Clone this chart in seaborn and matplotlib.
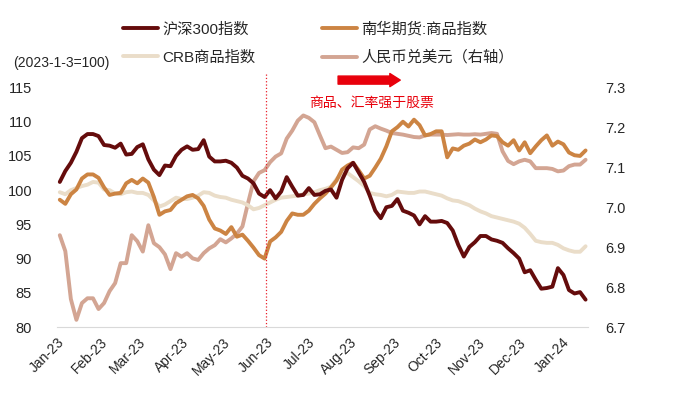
import pandas as pd
import matplotlib.pyplot as plt
import matplotlib.dates as mdates
import seaborn as sns

# values, one point every 4 days from 2023-01-03
hs300 = [101.2, 102.8, 104.0, 105.6, 107.6, 108.2, 108.2, 107.9, 106.6, 106.5, 106.2, 106.8,
         105.2, 105.3, 106.3, 106.7, 104.5, 103.0, 102.2, 103.6, 103.5, 105.0, 105.9, 106.4,
         105.9, 106.0, 107.3, 104.9, 104.2, 104.2, 104.3, 104.0, 103.3, 102.1, 101.7, 101.0,
         99.5, 99.0, 100.0, 98.8, 99.8, 101.9, 100.5, 99.2, 99.3, 100.3, 99.3, 99.4,
         99.9, 100.1, 98.9, 101.5, 103.2, 104.0, 102.6, 101.2, 99.2, 97.0, 95.9, 97.5,
         97.7, 98.7, 97.0, 96.7, 96.3, 95.0, 96.2, 95.4, 95.4, 95.5, 95.2, 94.1,
         92.0, 90.3, 91.7, 92.4, 93.3, 93.3, 92.8, 92.6, 92.3, 91.5, 90.8, 90.0,
         88.0, 88.3, 86.9, 85.6, 85.7, 85.9, 88.6, 87.6, 85.4, 84.9, 85.1, 84.0]

nanhua = [98.6, 98.0, 99.4, 100.1, 101.7, 102.3, 102.3, 101.8, 100.4, 99.3, 99.5, 99.6,
          101.0, 101.5, 101.0, 101.7, 101.1, 99.0, 96.4, 96.9, 97.1, 98.1, 98.6, 99.1,
          99.3, 98.8, 97.7, 95.7, 94.4, 94.1, 93.6, 94.6, 93.2, 93.5, 92.6, 91.6,
          90.5, 90.0, 92.5, 93.1, 93.9, 95.5, 96.6, 96.4, 96.4, 97.0, 98.0, 98.8,
          99.5, 100.4, 101.4, 103.0, 103.6, 104.0, 102.9, 101.7, 102.1, 103.3, 104.6, 106.4,
          108.6, 109.2, 110.0, 109.3, 110.3, 109.5, 108.0, 108.2, 108.6, 108.6, 104.8, 106.1,
          105.9, 106.5, 106.8, 107.4, 107.0, 107.4, 108.0, 107.9, 107.0, 106.5, 107.3, 105.8,
          107.0, 105.4, 106.4, 107.3, 108.0, 106.5, 107.1, 106.7, 105.5, 105.1, 105.0, 105.8]

crb = [99.7, 99.4, 100.0, 100.3, 100.6, 100.8, 101.2, 101.1, 100.1, 100.0, 99.5, 99.4,
       99.7, 99.8, 99.6, 99.6, 99.3, 98.5, 97.6, 97.9, 98.4, 98.9, 98.7, 98.7,
       98.9, 99.2, 99.7, 99.6, 99.2, 99.0, 98.9, 98.6, 98.4, 98.2, 97.8, 97.2,
       97.4, 97.8, 98.2, 98.6, 98.9, 99.0, 99.1, 99.2, 99.4, 99.5, 99.7, 100.0,
       100.2, 100.5, 101.6, 102.4, 102.5, 101.9, 101.3, 100.6, 99.6, 99.4, 99.3, 99.1,
       99.3, 99.8, 99.7, 99.6, 99.6, 99.8, 99.8, 99.6, 99.4, 99.2, 98.8, 98.5,
       98.4, 98.1, 97.8, 97.3, 96.9, 96.6, 96.2, 96.0, 95.8, 95.6, 95.4, 95.1,
       94.5, 93.6, 92.6, 92.4, 92.3, 92.3, 92.0, 91.5, 91.2, 91.0, 91.0, 91.8]

usdcny = [6.930, 6.890, 6.770, 6.718, 6.760, 6.772, 6.772, 6.745, 6.760, 6.790, 6.810, 6.860,
          6.860, 6.930, 6.915, 6.889, 6.955, 6.910, 6.900, 6.882, 6.845, 6.885, 6.876, 6.885,
          6.872, 6.868, 6.885, 6.897, 6.905, 6.920, 6.912, 6.922, 6.934, 6.952, 7.010, 7.065,
          7.086, 7.093, 7.113, 7.127, 7.135, 7.172, 7.192, 7.217, 7.230, 7.224, 7.213, 7.180,
          7.148, 7.152, 7.144, 7.136, 7.138, 7.150, 7.148, 7.157, 7.195, 7.203, 7.197, 7.192,
          7.186, 7.184, 7.182, 7.179, 7.176, 7.175, 7.180, 7.182, 7.182, 7.182, 7.181, 7.182,
          7.183, 7.182, 7.182, 7.183, 7.182, 7.184, 7.186, 7.184, 7.140, 7.116, 7.108, 7.115,
          7.119, 7.115, 7.098, 7.098, 7.098, 7.096, 7.090, 7.092, 7.103, 7.107, 7.107, 7.119]

dates = pd.date_range('2023-01-03', periods=len(hs300), freq='4D')

labels = ['沪深300指数', '南华期货:商品指数', 'CRB商品指数', '人民币兑美元（右轴）']
colors = ['#650C0C', '#CC8443', '#EADDC9', '#D3A593']

sns.set_style('white')
plt.rcParams['font.family'] = ['Liberation Sans', 'Noto Sans CJK SC']

fig = plt.figure(figsize=(6.87, 3.96), dpi=100)
ax = fig.add_axes([0.083, 0.1742, 0.7734, 0.6048])
ax2 = ax.twinx()
ax.set_zorder(ax2.get_zorder() + 1)
ax.patch.set_visible(False)

lw = 2.8
sns.lineplot(x=dates, y=usdcny, ax=ax2, color=colors[3], lw=lw, label=labels[3], legend=False)
sns.lineplot(x=dates, y=crb, ax=ax, color=colors[2], lw=lw, label=labels[2], legend=False)
sns.lineplot(x=dates, y=nanhua, ax=ax, color=colors[1], lw=lw, label=labels[1], legend=False)
sns.lineplot(x=dates, y=hs300, ax=ax, color=colors[0], lw=lw, label=labels[0], legend=False)

ax.set_ylim(80, 115)
ax.set_yticks(range(80, 116, 5))
ax2.set_ylim(6.7, 7.3)
ax2.set_yticks([6.7, 6.8, 6.9, 7.0, 7.1, 7.2, 7.3])
ax2.set_yticklabels([f'{v:.1f}' for v in [6.7, 6.8, 6.9, 7.0, 7.1, 7.2, 7.3]])
ax.set_xlim(pd.Timestamp('2023-01-01'), pd.Timestamp('2024-01-20'))
ax.xaxis.set_major_locator(mdates.MonthLocator())
ax.xaxis.set_major_formatter(mdates.DateFormatter('%b-%y'))
ax.set_xlabel('')
ax.set_ylabel('')
ax2.set_ylabel('')

for a in (ax, ax2):
    for s in ['top', 'left', 'right']:
        a.spines[s].set_visible(False)
ax.spines['bottom'].set_color('#D9D9D9')
ax2.spines['bottom'].set_visible(False)

ax.tick_params(axis='y', length=0, pad=18, labelsize=10.5, labelcolor='#262626')
ax2.tick_params(axis='y', length=0, pad=12, labelsize=10.5, labelcolor='#262626')
ax.tick_params(axis='x', length=4, width=0.8, color='#BFBFBF', pad=2,
               labelsize=10, labelcolor='#262626')
plt.setp(ax.get_xticklabels(), rotation=45, ha='right', rotation_mode='anchor')

# dividing line and annotations
ax.axvline(pd.Timestamp('2023-06-01'), ymin=0, ymax=1.065, color='#E8202A',
           ls=':', lw=0.9, clip_on=False)
ax.annotate('', xy=(0.646, 1.031), xytext=(0.529, 1.031), xycoords='axes fraction',
            arrowprops=dict(arrowstyle='simple,head_length=0.75,head_width=0.95,tail_width=0.58',
                            color='#E8000B', mutation_scale=10, shrinkA=0, shrinkB=0),
            annotation_clip=False)
ax.text(0.592, 0.935, '商品、汇率强于股票', transform=ax.transAxes, ha='center', va='center',
        fontsize=10, color='#E8000B')
fig.text(13 / 687, 1 - 63 / 396, '(2023-1-3=100)', ha='left', va='center',
         fontsize=10, color='#262626')

h1, l1 = ax.get_legend_handles_labels()
h2, l2 = ax2.get_legend_handles_labels()
hd = dict(zip(l1 + l2, h1 + h2))
order = [labels[0], labels[2], labels[1], labels[3]]
fig.legend([hd[k] for k in order], order, ncol=2, loc='upper left',
           bbox_to_anchor=(123 / 687, 1 - 22 / 396), frameon=False, fontsize=11,
           borderpad=0, borderaxespad=0, handlelength=2.3, handletextpad=0.25,
           columnspacing=4.4, labelspacing=0.88)

fig.savefig('out.png', dpi=100)
